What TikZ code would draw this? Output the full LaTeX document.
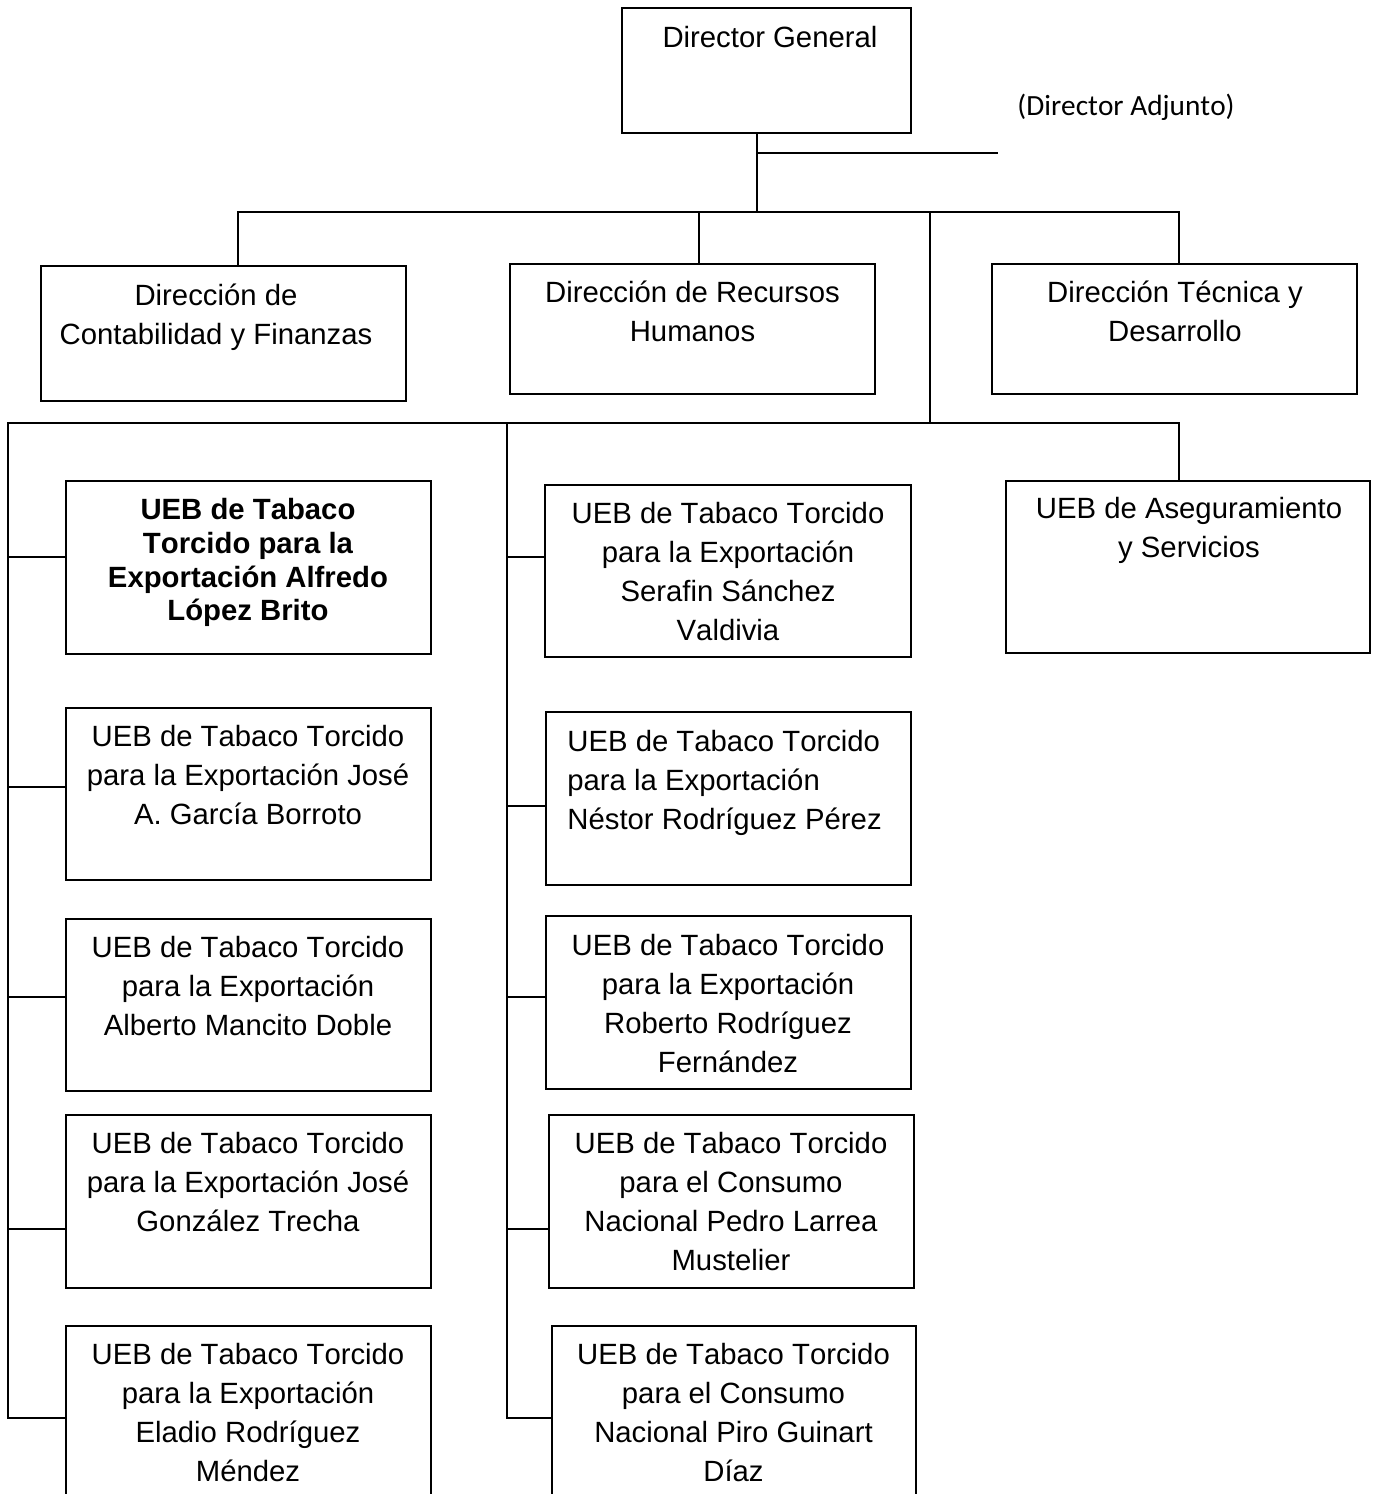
\documentclass[tikz,border=0pt]{standalone}
\usepackage{fontspec}
\setmainfont{Liberation Sans}[Kerning=Off]
\newfontfamily\calibfont{Carlito}[Kerning=Off]
\usetikzlibrary{fit}
\begin{document}
\begin{tikzpicture}[x=0.5pt,y=-0.5pt,
  box/.style={draw, line width=1pt, inner sep=0pt},
  txt/.style={inner sep=0pt, align=center, anchor=north, font=\fontsize{14.65pt}{19.5pt}\selectfont},
  ltxt/.style={inner sep=0pt, align=left, anchor=north west, font=\fontsize{14.65pt}{19.5pt}\selectfont},
  btxt/.style={inner sep=0pt, align=center, anchor=north, font=\fontsize{14.65pt}{16.85pt}\selectfont\bfseries},
  ln/.style={line width=1pt}]
\useasboundingbox[fill=white] (0,0) rectangle (1372,1494);

% boxes
\node[box, fit={(622,8) (911,133)}] (dg) {};
\node[box, fit={(41,266) (406,401)}] (cont) {};
\node[box, fit={(510,264) (875,394)}] (rrhh) {};
\node[box, fit={(992,264) (1357,394)}] (tec) {};
\node[box, fit={(66,481) (431,654)}] (alf) {};
\node[box, fit={(66,708) (431,880)}] (gar) {};
\node[box, fit={(66,919) (431,1091)}] (alb) {};
\node[box, fit={(66,1115) (431,1288)}] (gon) {};
\node[box, fit={(66,1326) (431,1510)}] (ela) {};
\node[box, fit={(545,485) (911,657)}] (ser) {};
\node[box, fit={(546,712) (911,885)}] (nes) {};
\node[box, fit={(546,916) (911,1089)}] (rob) {};
\node[box, fit={(549,1115) (914,1288)}] (ped) {};
\node[box, fit={(552,1326) (916,1510)}] (pir) {};
\node[box, fit={(1006,481) (1370,653)}] (ase) {};

% texts
\node[txt] (dgt) at (770,26) {Director General};
\node[inner sep=0pt, anchor=base west, font=\calibfont\fontsize{14.65pt}{17pt}\selectfont] (adjt) at (1017,115) {(Director Adjunto)};
\node[txt] (contt) at (216,284) {Dirección de\\Contabilidad y Finanzas};
\node[txt] (rrhht) at (692.5,281) {Dirección de Recursos\\Humanos};
\node[txt] (tect) at (1175,281) {Dirección Técnica y\\Desarrollo};
\node[btxt] (alft) at (248,498) {UEB de Tabaco\\Torcido para la\\Exportación Alfredo\\López Brito};
\node[txt] (gart) at (248,725) {UEB de Tabaco Torcido\\para la Exportación José\\A. García Borroto};
\node[txt] (albt) at (248,936) {UEB de Tabaco Torcido\\para la Exportación\\Alberto Mancito Doble};
\node[txt] (gont) at (248,1132) {UEB de Tabaco Torcido\\para la Exportación José\\González Trecha};
\node[txt] (elat) at (248,1343) {UEB de Tabaco Torcido\\para la Exportación\\Eladio Rodríguez\\Méndez};
\node[txt] (sert) at (728,502) {UEB de Tabaco Torcido\\para la Exportación\\Serafin Sánchez\\Valdivia};
\node[ltxt] (nest) at (567,730) {UEB de Tabaco Torcido\\para la Exportación\\Néstor Rodríguez Pérez};
\node[txt] (robt) at (728,934) {UEB de Tabaco Torcido\\para la Exportación\\Roberto Rodríguez\\Fernández};
\node[txt] (pedt) at (731,1132) {UEB de Tabaco Torcido\\para el Consumo\\Nacional Pedro Larrea\\Mustelier};
\node[txt] (pirt) at (733.5,1343) {UEB de Tabaco Torcido\\para el Consumo\\Nacional Piro Guinart\\Díaz};
\node[txt] (aset) at (1189,497) {UEB de Aseguramiento\\y Servicios};

% connectors
\coordinate (j0) at (757,212);
\coordinate (adjend) at (998,153);
\coordinate (hL) at (238,212);
\coordinate (hM) at (699,212);
\coordinate (hR) at (1179,212);
\coordinate (hB) at (930,212);
\coordinate (b0) at (930,423);
\coordinate (bL) at (8,423);
\coordinate (bM) at (507,423);
\coordinate (bR) at (1179,423);
\coordinate (lEnd) at (8,1418);
\coordinate (mEnd) at (507,1418);

\draw[ln] (dg.south -| j0) -- (j0);
\draw[ln] (adjend -| j0) -- (adjend);
\draw[ln] (hL |- cont.north) -- (hL) -- (hR) -- (hR |- tec.north);
\draw[ln] (hM) -- (hM |- rrhh.north);
\draw[ln] (hB) -- (b0);
\draw[ln] (lEnd -| ela.west) -- (lEnd) -- (bL) -- (bR) -- (bR |- ase.north);
\draw[ln] (bM) -- (mEnd) -- (mEnd -| pir.west);

% stubs left
\coordinate (sl1) at (8,557);
\coordinate (sl2) at (8,787);
\coordinate (sl3) at (8,997);
\coordinate (sl4) at (8,1229);
\draw[ln] (sl1) -- (sl1 -| alf.west);
\draw[ln] (sl2) -- (sl2 -| gar.west);
\draw[ln] (sl3) -- (sl3 -| alb.west);
\draw[ln] (sl4) -- (sl4 -| gon.west);
% stubs middle
\coordinate (sm1) at (507,557);
\coordinate (sm2) at (507,806);
\coordinate (sm3) at (507,997);
\coordinate (sm4) at (507,1229);
\draw[ln] (sm1) -- (sm1 -| ser.west);
\draw[ln] (sm2) -- (sm2 -| nes.west);
\draw[ln] (sm3) -- (sm3 -| rob.west);
\draw[ln] (sm4) -- (sm4 -| ped.west);
\end{tikzpicture}
\end{document}
